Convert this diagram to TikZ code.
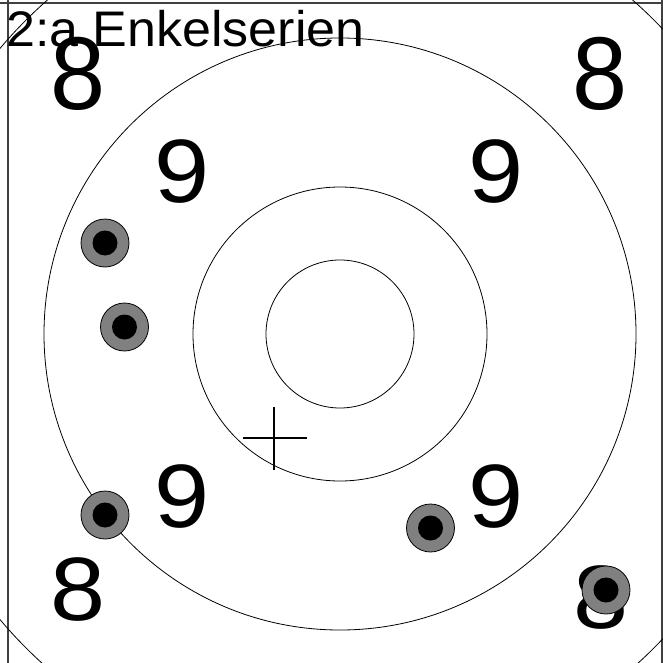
\documentclass[tikz,border=0pt]{standalone}
\usepackage{fontspec}
\setmainfont{Liberation Sans}
\begin{document}
\begin{tikzpicture}[x=1pt,y=-1pt,
  ring/.style={draw=black,line width=0.8pt},
  frameline/.style={draw=black!75,line width=1.3pt},
  digit/.style={inner sep=0pt,xscale=1.1,font=\fontsize{90}{90}\selectfont},
  shotouter/.style={circle,draw=black,line width=0.8pt,fill=black!50,minimum size=48pt,inner sep=0pt},
  shotinner/.style={circle,fill=black,minimum size=25pt,inner sep=0pt},
  crossline/.style={draw=black,line width=2.2pt}]
\useasboundingbox (0,0) rectangle (663,663);
\coordinate (c) at (340,334);
% frame
\coordinate (tl) at (0,3); \coordinate (tr) at (663,3);
\coordinate (lt) at (8,0); \coordinate (lb) at (8,663);
\coordinate (rt) at (662,0); \coordinate (rb) at (662,663);
\draw[frameline] (tl) -- (tr);
\draw[frameline] (lt) -- (lb);
\draw[frameline] (rt) -- (rb);
% corner arcs (big ring)
\begin{scope}
\clip (0,0) rectangle (663,663);
\draw[ring] (c) circle[radius=444];
\end{scope}
% rings
\draw[ring] (c) circle[radius=296];
\draw[ring] (c) circle[radius=147];
\draw[ring] (c) circle[radius=74];
% numbers
\node[digit,yscale=1.15] (e1) at (78,74) {8};
\node[digit,yscale=1.15] (e2) at (600,74) {8};
\node[digit] (e3) at (78,590) {8};
\node[digit] (e4) at (601,598) {8};
\node[digit] (n1) at (182,172) {9};
\node[digit] (n2) at (496,172) {9};
\node[digit] (n3) at (182,497) {9};
\node[digit] (n4) at (496,497) {9};
% title
\node[anchor=base west,inner sep=0pt,xscale=1.04,font=\fontsize{50}{50}\selectfont] (title) at (6,47) {2:a Enkelserien};
% cross
\coordinate (hl) at (243,438); \coordinate (hr) at (307,438);
\coordinate (vt) at (274,407); \coordinate (vb) at (274,470);
\draw[crossline] (hl) -- (hr);
\draw[crossline] (vt) -- (vb);
% shots
\node[shotouter] (s1) at (105,243) {};
\node[shotinner] (s1i) at (s1) {};
\node[shotouter] (s2) at (124.5,327) {};
\node[shotinner] (s2i) at (s2) {};
\node[shotouter] (s3) at (105,515) {};
\node[shotinner] (s3i) at (s3) {};
\node[shotouter] (s4) at (430.5,528) {};
\node[shotinner] (s4i) at (s4) {};
\node[shotouter] (s5) at (606,590) {};
\node[shotinner] (s5i) at (s5) {};
\end{tikzpicture}
\end{document}
